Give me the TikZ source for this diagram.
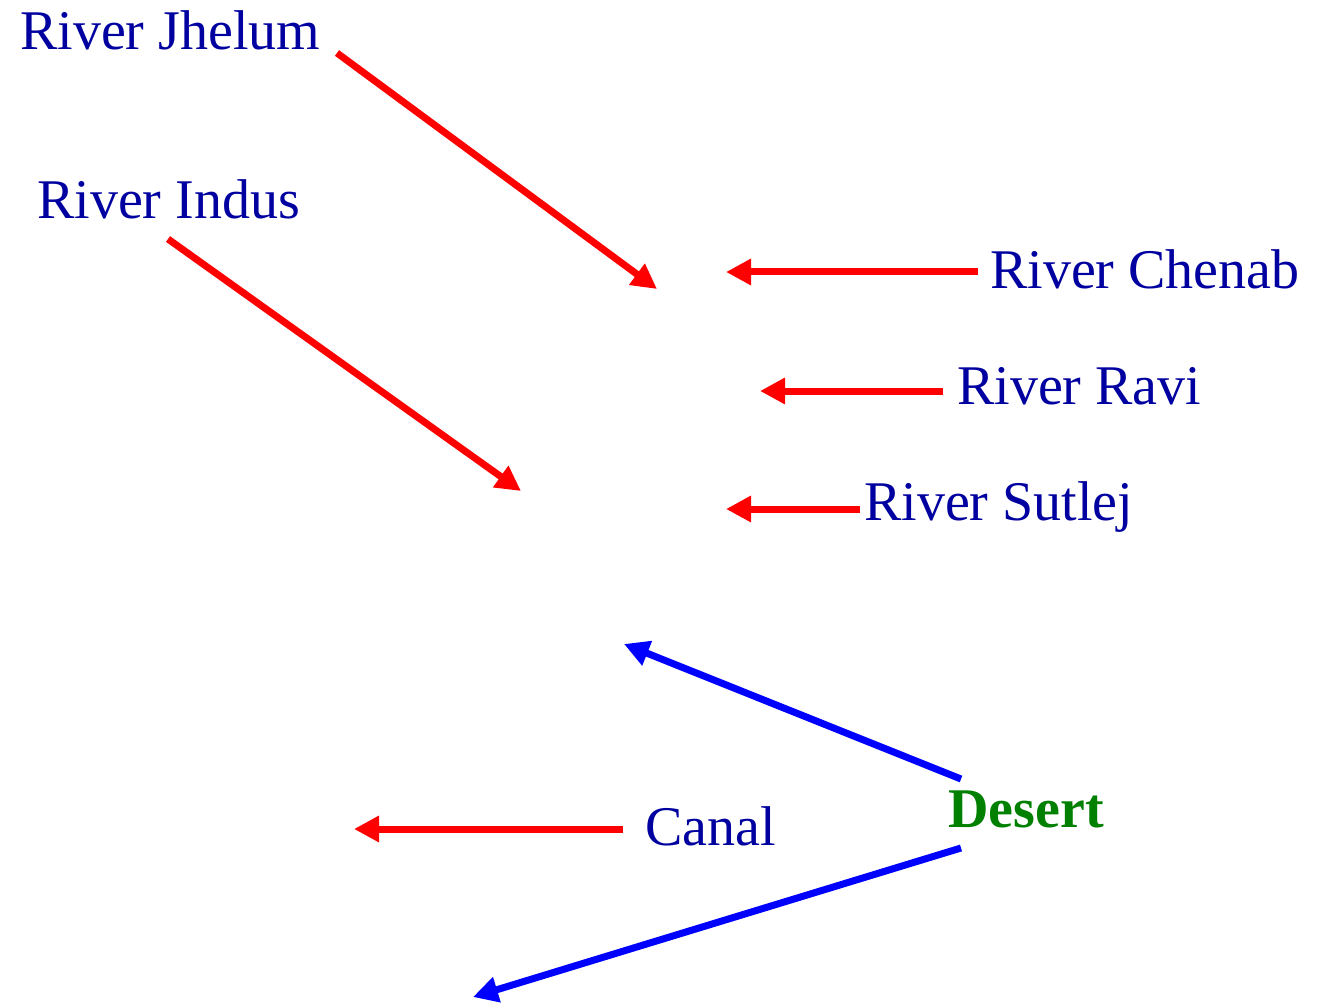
\documentclass[tikz,border=0pt]{standalone}
\usepackage{fontspec}
\setmainfont{Liberation Serif}
\usetikzlibrary{arrows.meta}
\definecolor{txtblue}{RGB}{0,0,160}
\definecolor{dgreen}{RGB}{0,128,0}
\tikzset{
  lbl/.style={anchor=base west, inner sep=0pt, text=txtblue, font=\fontsize{56}{60}\selectfont},
  redarrow/.style={draw=red, line width=7pt, -{Triangle[length=25pt,width=25pt]}},
  bluearrow/.style={draw=blue, line width=7pt, -{Triangle[length=25pt,width=25pt]}}
}
\begin{document}
\begin{tikzpicture}[x=1pt,y=-1pt]
\useasboundingbox[fill=white] (0,0) rectangle (1323,1003);
\node[lbl] (jhelum) at (20,50) {River Jhelum};
\node[lbl] (indus) at (37,219) {River Indus};
\node[lbl] (chenab) at (990,288) {River Chenab};
\node[lbl] (ravi) at (957,404) {River Ravi};
\node[lbl] (sutlej) at (864,520) {River Sutlej};
\node[lbl] (canal) at (645,845) {Canal};
\node[lbl, text=dgreen, font=\fontsize{56}{60}\selectfont\bfseries] (desert) at (948,827) {Desert};

\coordinate (jS) at (337,53);  \coordinate (jE) at (657,289);
\coordinate (iS) at (168,239); \coordinate (iE) at (521,491);
\coordinate (cS) at (978,272); \coordinate (cE) at (726,272);
\coordinate (rS) at (943,391); \coordinate (rE) at (760,391);
\coordinate (sS) at (860,509); \coordinate (sE) at (726,509);
\coordinate (d1S) at (961,779); \coordinate (d1E) at (624,644);
\coordinate (caS) at (623,829); \coordinate (caE) at (354,829);
\coordinate (d2S) at (961,848); \coordinate (d2E) at (473,997);

\draw[redarrow] (jS) -- (jE);
\draw[redarrow] (iS) -- (iE);
\draw[redarrow] (cS) -- (cE);
\draw[redarrow] (rS) -- (rE);
\draw[redarrow] (sS) -- (sE);
\draw[redarrow] (caS) -- (caE);
\draw[bluearrow] (d1S) -- (d1E);
\draw[bluearrow] (d2S) -- (d2E);
\end{tikzpicture}
\end{document}
